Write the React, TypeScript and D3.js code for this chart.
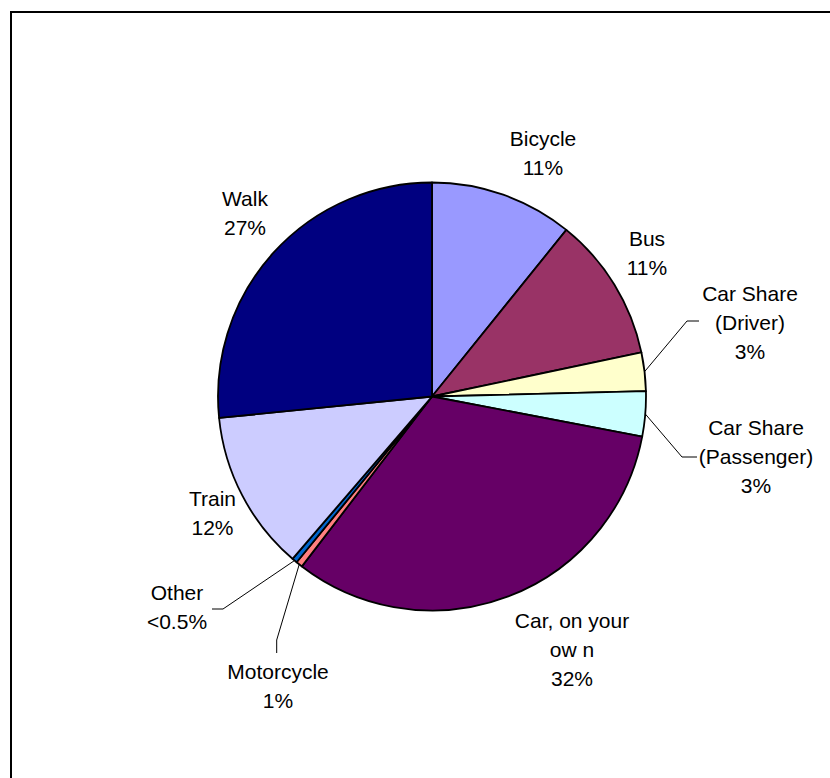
import React from "react";
import * as d3 from "d3";

// ---- data ----
const categories = [
  "Bicycle",
  "Bus",
  "Car Share (Driver)",
  "Car Share (Passenger)",
  "Car, on your own",
  "Motorcycle",
  "Other",
  "Train",
  "Walk",
];
const shares = [10.8, 10.9, 2.9, 3.4, 32.4, 0.5, 0.4, 12.1, 26.6];
const labelLines = [
  ["Bicycle", "11%"],
  ["Bus", "11%"],
  ["Car Share", "(Driver)", "3%"],
  ["Car Share", "(Passenger)", "3%"],
  ["Car, on your", "ow n", "32%"],
  ["Motorcycle", "1%"],
  ["Other", "<0.5%"],
  ["Train", "12%"],
  ["Walk", "27%"],
];
const colors = [
  "#9999FF",
  "#993366",
  "#FFFFCC",
  "#CCFFFF",
  "#660066",
  "#FF8080",
  "#0066CC",
  "#CCCCFF",
  "#000080",
];

// ---- layout (label anchors: center x, first line cap-center y) ----
const labelPos: [number, number][] = [
  [543, 138],
  [647, 238],
  [750, 293],
  [756, 427],
  [572, 620],
  [278, 671.5],
  [177, 592.5],
  [212.5, 498],
  [245, 198.3],
];
// leader lines: [elbow, end] for slices that have them
const leaders: Record<number, [number, number][]> = {
  2: [
    [687, 321],
    [699, 321],
  ],
  3: [
    [682, 457],
    [697, 457],
  ],
  5: [
    [276.7, 640],
    [276.7, 653],
  ],
  6: [
    [223, 609],
    [212, 609],
  ],
};

const W = 830;
const H = 778;
const CX = 432;
const CY = 396.5;
const R = 214;
const FONT = 21;
const LINE = 29.2;

export default function App() {
  const pie = d3
    .pie<number>()
    .sort(null)
    .value((d) => d)
    .startAngle(0)
    .endAngle(2 * Math.PI);
  const arcs = pie(shares);
  const arc = d3.arc<d3.PieArcDatum<number>>().innerRadius(0).outerRadius(R);
  const edge = d3.arc<d3.PieArcDatum<number>>().innerRadius(R).outerRadius(R);

  return (
    <svg
      width={W}
      height={H}
      style={{ position: "absolute", left: 0, top: 0, background: "#fff" }}
      fontFamily="'Liberation Sans', Arial, sans-serif"
    >
      <rect x={0} y={0} width={W} height={H} fill="#fff" />
      <rect
        x={11}
        y={12}
        width={W + 20}
        height={H + 20}
        fill="none"
        stroke="#000"
        strokeWidth={2}
      />
      <g transform={`translate(${CX},${CY})`}>
        {arcs.map((a, i) => (
          <path
            key={categories[i]}
            d={arc(a) || ""}
            fill={colors[i]}
            stroke="#000"
            strokeWidth={1.8}
            strokeLinejoin="round"
          />
        ))}
      </g>
      {arcs.map((a, i) => {
        const l = leaders[i];
        if (!l) return null;
        const [sx, sy] = edge.centroid(a);
        const pts: [number, number][] = [[CX + sx, CY + sy], ...l];
        return (
          <path
            key={"lead" + i}
            d={d3.line()(pts) || ""}
            fill="none"
            stroke="#000"
            strokeWidth={1}
          />
        );
      })}
      {labelLines.map((lines, i) => (
        <text
          key={"lab" + i}
          textAnchor="middle"
          fontSize={FONT}
          fill="#000"
        >
          {lines.map((t, j) => (
            <tspan
              key={j}
              x={labelPos[i][0]}
              y={labelPos[i][1] + j * LINE + FONT * 0.358}
            >
              {t}
            </tspan>
          ))}
        </text>
      ))}
    </svg>
  );
}
